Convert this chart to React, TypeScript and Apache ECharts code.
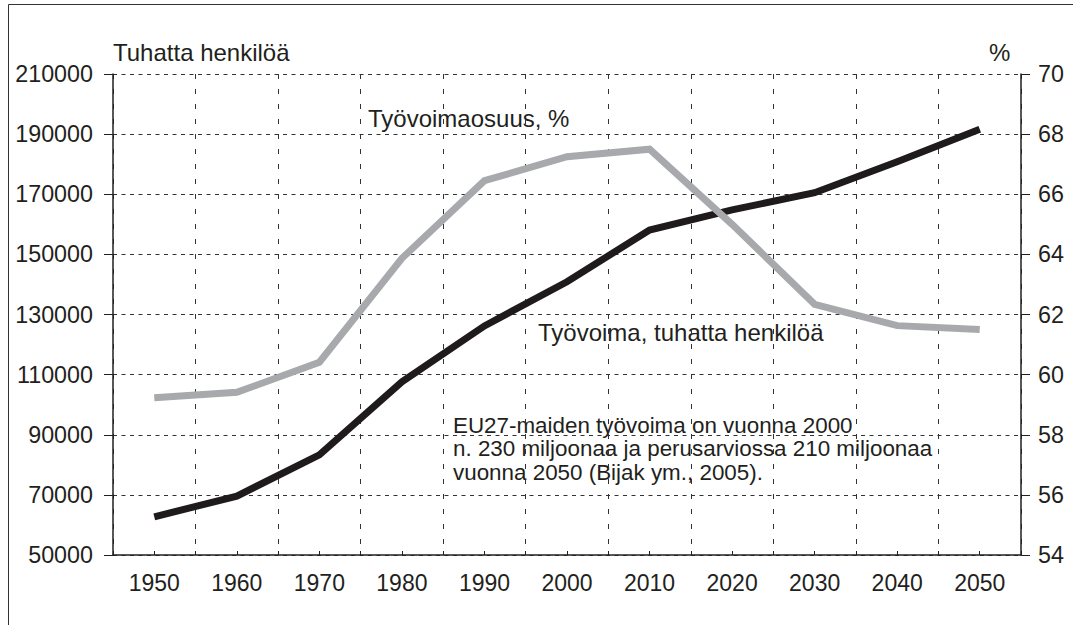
import React, { useEffect, useRef } from "react";
import * as echarts from "echarts";

const years = ["1950", "1960", "1970", "1980", "1990", "2000", "2010", "2020", "2030", "2040", "2050"];
const tyovoima = [62700, 69600, 83300, 107600, 126200, 140900, 158100, 164800, 170500, 180800, 191600];
const tyovoimaosuus = [59.23, 59.41, 60.41, 63.87, 66.45, 67.25, 67.5, 65.0, 62.34, 61.63, 61.5];

const leftTitle = "Tuhatta henkilöä";
const rightTitle = "%";
const labelShare = "Työvoimaosuus, %";
const labelForce = "Työvoima, tuhatta henkilöä";
const noteLines = [
  "EU27-maiden työvoima on vuonna 2000",
  "n. 230 miljoonaa ja perusarviossa 210 miljoonaa",
  "vuonna 2050 (Bijak ym., 2005).",
];

const FONT = '"Liberation Sans", Arial, Helvetica, sans-serif';
const INK = "#231f20";

export default function App() {
  const ref = useRef<HTMLDivElement>(null);
  useEffect(() => {
    if (!ref.current) return;
    const chart = echarts.init(ref.current, undefined, { renderer: "svg" });
    const txt = (text: string, x: number, y: number, size: number) => ({
      type: "text",
      x,
      y,
      silent: true,
      style: {
        text,
        fill: INK,
        font: `${size}px ${FONT}`,
        textAlign: "left",
        textVerticalAlign: "middle",
      },
    });
    const plain = (v: number) => String(v);
    chart.setOption({
      animation: false,
      backgroundColor: "#ffffff",
      grid: { left: 113, right: 52, top: 74, bottom: 70, containLabel: false },
      xAxis: [
        {
          type: "category",
          data: years,
          boundaryGap: true,
          position: "bottom",
          axisLine: { show: true, lineStyle: { color: INK, width: 1.5 } },
          axisTick: { show: true, inside: true, length: 4, lineStyle: { color: INK, width: 1 } },
          axisLabel: { margin: 16, fontSize: 23, color: INK, fontFamily: FONT },
          splitLine: { show: true, lineStyle: { color: "#333", width: 1, type: [5, 10] } },
        },
        {
          type: "category",
          data: years,
          boundaryGap: true,
          position: "bottom",
          axisLine: { show: false },
          axisTick: { show: true, inside: true, length: 4, alignWithLabel: true, lineStyle: { color: INK, width: 1 } },
          axisLabel: { show: false },
          splitLine: { show: false },
        },
      ],
      yAxis: [
        {
          type: "value",
          position: "left",
          min: 50000,
          max: 210000,
          interval: 20000,
          axisLine: { show: true, lineStyle: { color: INK, width: 1.5 } },
          axisTick: { show: true, length: 9, lineStyle: { color: INK, width: 1 } },
          axisLabel: { margin: 20, fontSize: 23.3, color: INK, fontFamily: FONT, formatter: plain },
          splitLine: { show: true, lineStyle: { color: "#333", width: 1, type: [4, 4.5] } },
        },
        {
          type: "value",
          position: "right",
          min: 54,
          max: 70,
          interval: 2,
          axisLine: { show: true, lineStyle: { color: INK, width: 1.5 } },
          axisTick: { show: true, length: 9, lineStyle: { color: INK, width: 1 } },
          axisLabel: { margin: 17, fontSize: 23.3, color: INK, fontFamily: FONT, formatter: plain },
          splitLine: { show: false },
        },
      ],
      series: [
        {
          name: labelForce,
          type: "line",
          data: tyovoima,
          yAxisIndex: 0,
          symbol: "none",
          lineStyle: { color: "#1f1b1c", width: 7, cap: "butt", join: "miter" },
          z: 3,
        },
        {
          name: labelShare,
          type: "line",
          data: tyovoimaosuus,
          yAxisIndex: 1,
          symbol: "none",
          lineStyle: { color: "#a7a9ac", width: 7, cap: "butt", join: "miter" },
          z: 4,
        },
      ],
      graphic: [
        { type: "line", silent: true, shape: { x1: 8.5, y1: 4.5, x2: 1080, y2: 4.5 }, style: { stroke: "#333", lineWidth: 1 } },
        { type: "line", silent: true, shape: { x1: 8.5, y1: 4.5, x2: 8.5, y2: 630 }, style: { stroke: "#333", lineWidth: 1 } },
        txt(leftTitle, 113, 52, 24),
        txt(rightTitle, 989, 52, 24),
        txt(labelShare, 368, 118.5, 24),
        txt(labelForce, 538, 332, 24),
        txt(noteLines[0], 453, 425.5, 22.4),
        txt(noteLines[1], 453, 448.7, 22.4),
        txt(noteLines[2], 453, 472, 22.4),
      ],
    });
    return () => chart.dispose();
  }, []);
  return (
    <div
      ref={ref}
      style={{ position: "fixed", left: 0, top: 0, width: 1073, height: 625, background: "#fff" }}
    />
  );
}
